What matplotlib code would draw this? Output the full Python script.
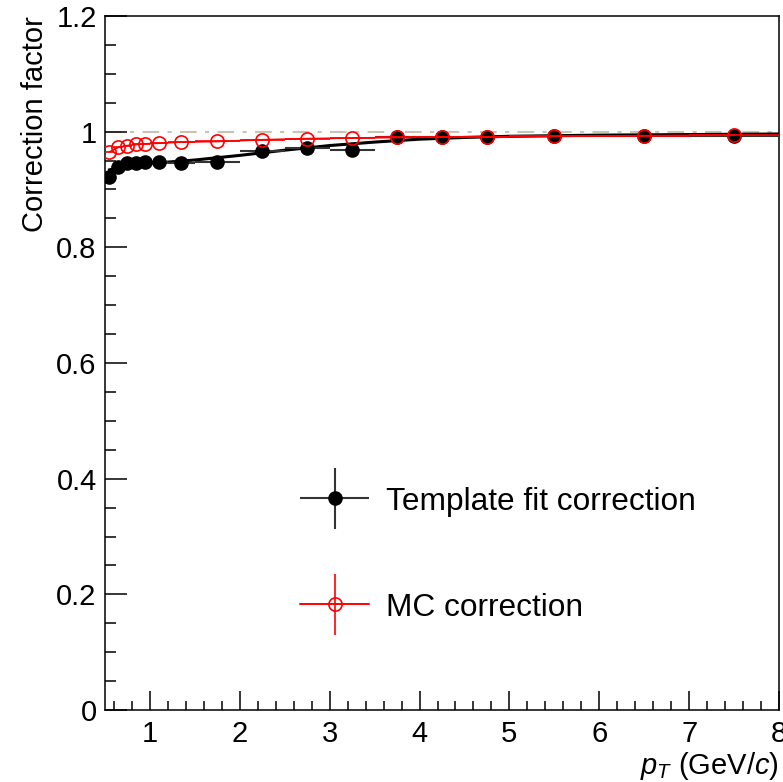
import numpy as np
import matplotlib
matplotlib.use("Agg")
import matplotlib.pyplot as plt
from matplotlib.legend_handler import HandlerErrorbar

plt.rcParams['font.family'] = ['Liberation Sans', 'DejaVu Sans']
plt.rcParams['mathtext.fontset'] = 'custom'
plt.rcParams['mathtext.rm'] = 'Liberation Sans'
plt.rcParams['mathtext.it'] = 'Liberation Sans:italic'

# pT bins (GeV/c)
bin_edges = [0.5, 0.6, 0.7, 0.8, 0.9, 1.0, 1.2, 1.5, 2.0, 2.5, 3.0, 3.5,
             4.0, 4.5, 5.0, 6.0, 7.0, 8.0]
template_corr = [0.921, 0.939, 0.945, 0.946, 0.947, 0.948, 0.946, 0.947,
                 0.966, 0.971, 0.969, 0.990, 0.990, 0.991, 0.992, 0.992, 0.993]
mc_corr = [0.965, 0.973, 0.976, 0.978, 0.979, 0.980, 0.982, 0.983,
           0.986, 0.988, 0.989, 0.990, 0.991, 0.991, 0.992, 0.993, 0.994]

# fit curve
fit_x = [0.55, 0.7, 1.0, 1.5, 2.0, 2.5, 3.0, 3.5, 4.0, 4.5, 5.0, 6.0, 7.0, 8.0]
fit_y = [0.934, 0.940, 0.945, 0.951, 0.959, 0.968, 0.976, 0.982, 0.987,
         0.990, 0.992, 0.994, 0.995, 0.996]

edges = np.array(bin_edges)
centers = 0.5 * (edges[1:] + edges[:-1])
half_w = 0.5 * (edges[1:] - edges[:-1])

fig = plt.figure(figsize=(7.83, 7.82), dpi=100)
ax = fig.add_axes([105 / 783, 72 / 782, 674 / 783, 694 / 782])

ax.axhline(1.0, color='#c9c4b0', lw=1.5, ls=(0, (8, 4, 2, 4)), zorder=1)

black_style = dict(fmt='o', color='black', ecolor='#333333', elinewidth=1.5,
                   capsize=0, ms=9.5)
red_style = dict(fmt='o-', color='red', ecolor='red', elinewidth=1.2, lw=1.2,
                 capsize=0, ms=9.5, mfc='none', mec='red', mew=1.2)

ax.plot(fit_x, fit_y, color='black', lw=2.2, zorder=2)
ax.errorbar(centers, template_corr, xerr=half_w, zorder=3, **black_style)
ax.errorbar(centers, mc_corr, xerr=half_w, zorder=4, **red_style)

# empty proxies so the legend shows both error bar directions
h_tmpl = ax.errorbar([], [], xerr=[], yerr=[], **black_style)
h_mc = ax.errorbar([], [], xerr=[], yerr=[], **red_style)

ax.set_xlim(0.5, 8)
ax.set_ylim(0, 1.2)
ax.set_xticks([1, 2, 3, 4, 5, 6, 7, 8])
ax.set_xticks(np.arange(0.6, 8.0, 0.2), minor=True)
ax.set_yticks([0, 0.2, 0.4, 0.6, 0.8, 1.0, 1.2])
ax.set_yticklabels(['0', '0.2', '0.4', '0.6', '0.8', '1', '1.2'])
ax.set_yticks(np.arange(0.05, 1.2, 0.05), minor=True)

ax.tick_params(axis='both', which='both', direction='in', labelsize=21,
               top=False, right=False, width=1.1)
ax.tick_params(axis='x', which='major', length=13.5, pad=7)
ax.tick_params(axis='x', which='minor', length=6.5)
ax.tick_params(axis='y', which='major', length=16, pad=6)
ax.tick_params(axis='y', which='minor', length=8)
for s in ax.spines.values():
    s.set_linewidth(1.1)

ax.set_ylabel('Correction factor', fontsize=21, loc='top', labelpad=5)
ax.set_xlabel(r'$p_{T}$ (GeV/$c$)', fontsize=21, loc='right', labelpad=2)

ax.legend([h_tmpl, h_mc], ['Template fit correction', 'MC correction'],
          loc='center left', bbox_to_anchor=(0.289, 0.224),
          frameon=False, fontsize=22.8, handlelength=2.2,
          handletextpad=0.53, labelspacing=2.4, borderpad=0,
          borderaxespad=0,
          handler_map={type(h_tmpl): HandlerErrorbar(xerr_size=1.1,
                                                     yerr_size=0.97)})

fig.savefig('out.png', dpi=100)
